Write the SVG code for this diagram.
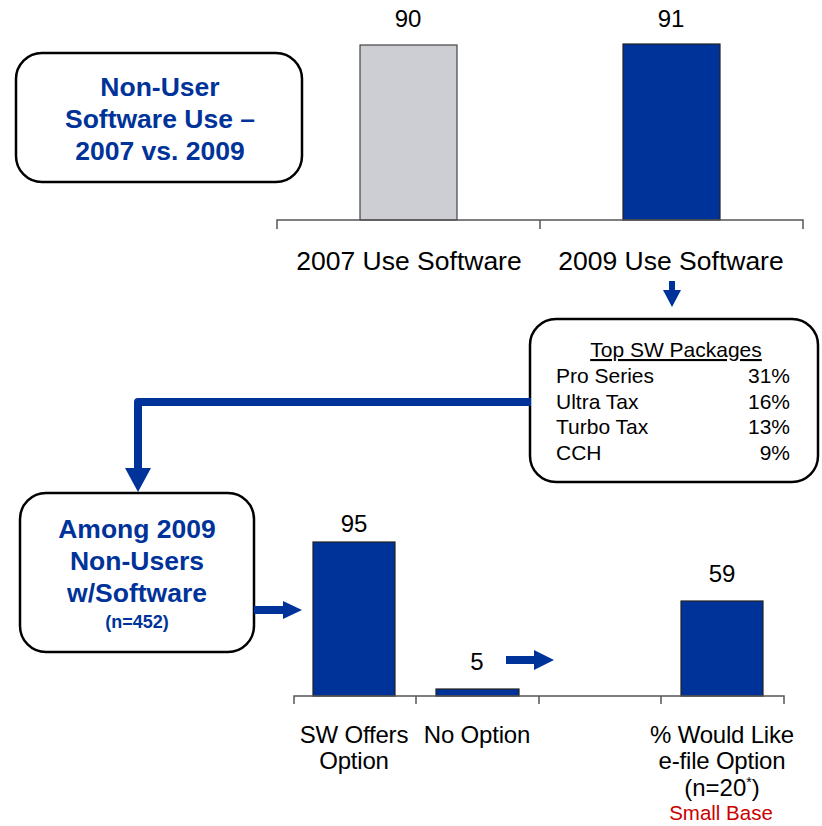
<svg xmlns="http://www.w3.org/2000/svg" width="822" height="826" viewBox="0 0 822 826">
<style>
.box{fill:#fff;stroke:#000;stroke-width:2.5}
.ttl{font-family:"Liberation Sans",Arial,sans-serif;font-weight:bold;fill:#003399;text-anchor:middle}
.lbl{font-family:"Liberation Sans",Arial,sans-serif;fill:#000;text-anchor:middle}
.pk{font-family:"Liberation Sans",Arial,sans-serif;fill:#000;font-size:21px}
.axis{stroke:#555;stroke-width:1.5;fill:none}
.bar{fill:#003399;stroke:#222;stroke-width:1.2}
.gbar{fill:#CDCED3;stroke:#444;stroke-width:1.2}
.arr{fill:#003399}
</style>

<g id="chart-top">
  <rect class="gbar" x="360" y="45" width="97" height="175"/>
  <rect class="bar" x="623" y="44" width="97" height="176"/>
  <path class="axis" d="M277,229 V220 H803 V229 M540,220 V229"/>
  <text class="lbl" x="408" y="27" font-size="24">90</text>
  <text class="lbl" x="671" y="27" font-size="24">91</text>
  <text class="lbl" x="409" y="270" font-size="26.5">2007 Use Software</text>
  <text class="lbl" x="671" y="270" font-size="26.5">2009 Use Software</text>
</g>

<g id="title">
  <rect class="box" x="16" y="53" width="286" height="129" rx="26"/>
  <text class="ttl" x="160" y="96" font-size="26.5">Non-User</text>
  <text class="ttl" x="160" y="128" font-size="26.5">Software Use –</text>
  <text class="ttl" x="160" y="160" font-size="26.5">2007 vs. 2009</text>
</g>

<g id="packages">
  <rect class="box" x="530" y="319" width="288" height="163" rx="26"/>
  <text class="pk" x="676" y="357" text-anchor="middle" text-decoration="underline">Top SW Packages</text>
  <text class="pk" x="556" y="383">Pro Series</text>
  <text class="pk" x="556" y="409">Ultra Tax</text>
  <text class="pk" x="556" y="434">Turbo Tax</text>
  <text class="pk" x="556" y="460">CCH</text>
  <text class="pk" x="790" y="383" text-anchor="end">31%</text>
  <text class="pk" x="790" y="409" text-anchor="end">16%</text>
  <text class="pk" x="790" y="434" text-anchor="end">13%</text>
  <text class="pk" x="790" y="460" text-anchor="end">9%</text>
</g>

<g id="among">
  <rect class="box" x="20" y="493" width="234" height="159" rx="26"/>
  <text class="ttl" x="137" y="538" font-size="26.5">Among 2009</text>
  <text class="ttl" x="137" y="570" font-size="26.5">Non-Users</text>
  <text class="ttl" x="137" y="602" font-size="26.5">w/Software</text>
  <text class="ttl" x="137" y="628" font-size="18">(n=452)</text>
</g>

<g id="chart-bottom">
  <rect class="bar" x="313" y="542" width="82" height="154"/>
  <rect class="bar" x="436" y="689" width="83" height="7"/>
  <rect class="bar" x="681" y="601" width="82" height="95"/>
  <path class="axis" d="M294,704 V696 H784 V704 M416,696 V704 M539,696 V704 M661,696 V704"/>
  <text class="lbl" x="354" y="532" font-size="24">95</text>
  <text class="lbl" x="477" y="670" font-size="24">5</text>
  <text class="lbl" x="722" y="582" font-size="24">59</text>
  <text class="lbl" x="354" y="743" font-size="24" letter-spacing="-0.2">SW Offers</text>
  <text class="lbl" x="354" y="769" font-size="24" letter-spacing="-0.2">Option</text>
  <text class="lbl" x="477" y="743" font-size="24" letter-spacing="-0.2">No Option</text>
  <text class="lbl" x="722" y="743" font-size="24" letter-spacing="-0.2">% Would Like</text>
  <text class="lbl" x="722" y="769" font-size="24" letter-spacing="-0.2">e-file Option</text>
  <text class="lbl" x="722" y="796" font-size="24">(n=20<tspan font-size="14" dy="-9">*</tspan><tspan dy="9">)</tspan></text>
  <text class="lbl" x="721" y="820" font-size="20.5" style="fill:#CC0000">Small Base</text>
</g>

<g id="connectors">
  <polygon class="arr" points="669,281 675,281 675,290 681,290 672,307 663,290 669,290"/>
  <path d="M531,402 H138 V470" fill="none" stroke="#003399" stroke-width="8" stroke-linejoin="round"/>
  <polygon class="arr" points="125,468 151,468 138,492"/>
  <polygon class="arr" points="254,606 283,606 283,601 302,610 283,619 283,614 254,614"/>
  <polygon class="arr" points="506,656 534,656 534,650 554,660 534,670 534,664 506,664"/>
</g>
</svg>
